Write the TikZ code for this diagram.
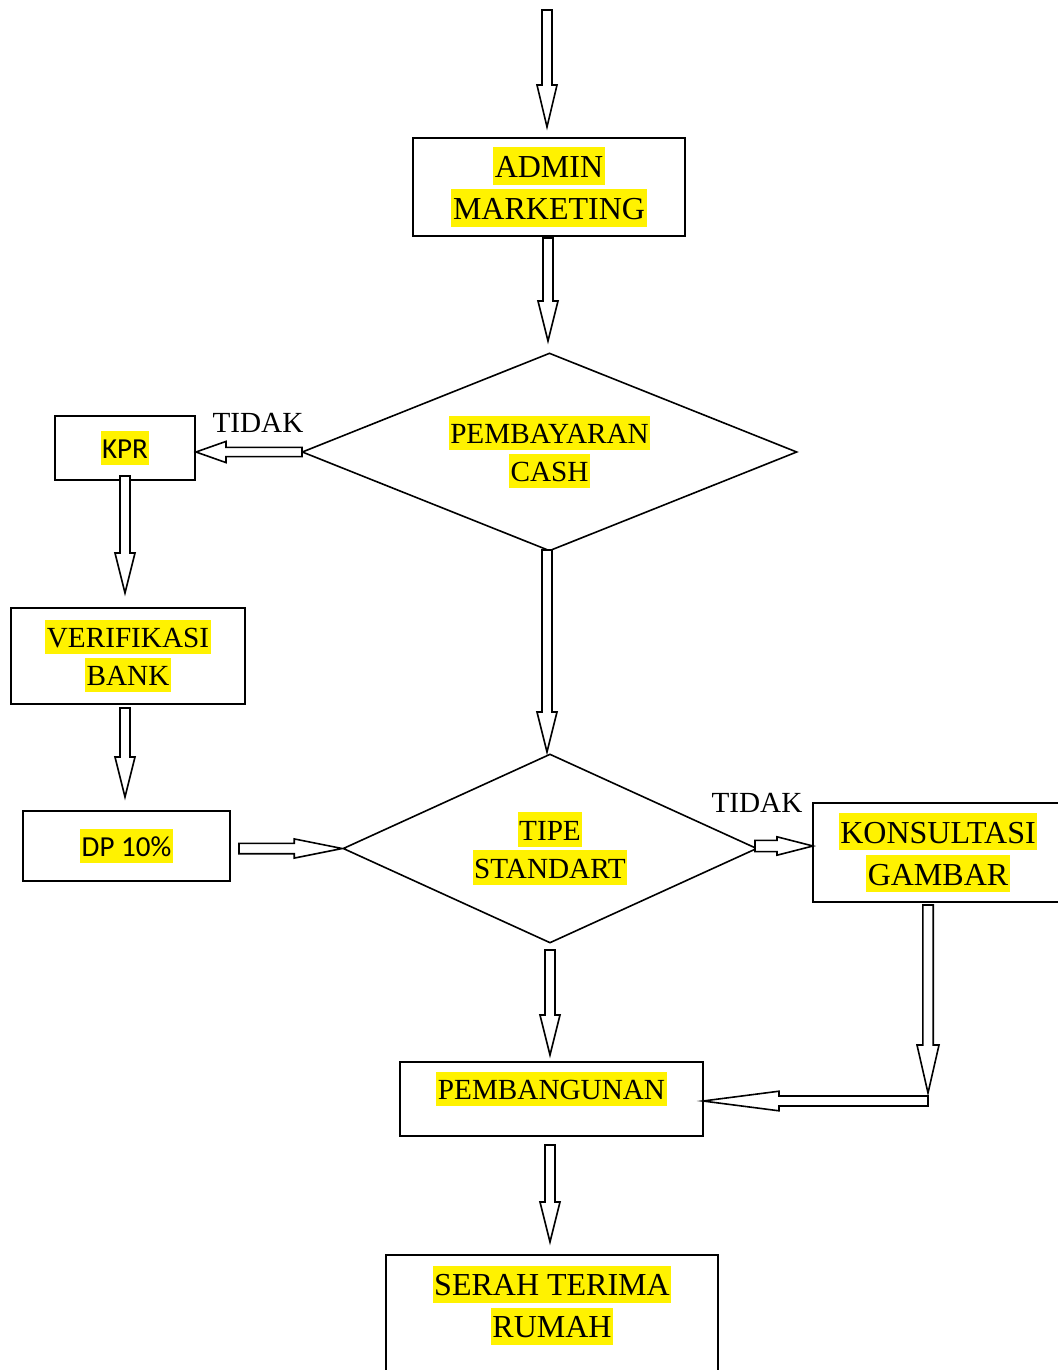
\documentclass[tikz,border=0pt]{standalone}
\usepackage{fontspec}
\setmainfont{Liberation Serif}
\newfontfamily\calibri{Carlito}
\usetikzlibrary{calc, shapes.geometric}
\setlength{\fboxsep}{0.8pt}
\newcommand{\hl}[1]{\colorbox{yellow}{\rule[-.17em]{0pt}{1.06em}#1}}
\tikzset{%
	box/.style={
		draw,
		line width=0.8pt,
		fill=white,
		inner sep=0pt,
		align=center
	},
	decision/.style={
		diamond,
		draw,
		line width=0.8pt,
		fill=white,
		inner sep=0pt,
		align=center
	},
	big text/.style={font=\fontsize{16}{21}\selectfont},
	small text/.style={font=\fontsize{14.6}{19}\selectfont},
	hollow/.style n args={3}{
		draw,
		line width=0.8pt,
		fill=white,
		to path={
			($(\tikztotarget)!#3!(\tikztostart)$) coordinate (hb)
			($(\tikztostart)!#1!90:(\tikztotarget)$) -- ($(hb)!#1!90:(\tikztotarget)$)
			-- ($(hb)!#2!90:(\tikztotarget)$) -- (\tikztotarget)
			-- ($(hb)!#2!-90:(\tikztotarget)$) -- ($(hb)!#1!-90:(\tikztotarget)$)
			-- ($(\tikztostart)!#1!-90:(\tikztotarget)$) -- cycle
		}
	},
}

\begin{document}
\begin{tikzpicture}[x=0.5pt, y=-0.5pt]
	\useasboundingbox (0,0) rectangle (1057,1370);
	
	% Boxes and decisions
	\node[box, big text, minimum width=136pt, minimum height=49pt] (admin) at (549,187) {\hl{ADMIN}\\\hl{MARKETING}};
	\node[decision, small text, minimum width=247.5pt, minimum height=99pt, shape aspect=2.5] (cash) at (549.5,452) {\hl{PEMBAYARAN}\\\hl{CASH}};
	\node[box, font=\calibri\fontsize{14.5}{19}\selectfont, minimum width=70pt, minimum height=32pt] (kpr) at (125,448) {\hl{KPR}};
	\node[box, small text, minimum width=117pt, minimum height=48pt] (verif) at (128,656) {\hl{VERIFIKASI}\\\hl{BANK}};
	\node[box, font=\calibri\fontsize{14.5}{19}\selectfont, minimum width=103.5pt, minimum height=35pt] (dp) at (126.5,846) {\hl{DP 10\%}};
	\node[decision, small text, minimum width=207pt, minimum height=94.5pt, shape aspect=2.2] (tipe) at (550,848.5) {\hl{TIPE}\\\hl{STANDART}};
	\node[box, big text, minimum width=125pt, minimum height=49.5pt] (konsul) at (938,852.5) {\hl{KONSULTASI}\\\hl{GAMBAR}};
	\node[box, small text, text depth=13.2pt, minimum width=151.5pt, minimum height=37pt] (pemb) at (551.5,1099) {\hl{PEMBANGUNAN}};
	\node[box, big text, anchor=north, inner sep=5.5pt, text depth=100pt, minimum width=166pt] (serah) at (552,1254) {\hl{SERAH TERIMA}\\\hl{RUMAH}};
	
	% Labels
	\node[small text] (tidak1) at (258,423) {TIDAK};
	\node[small text] (tidak2) at (757,803) {TIDAK};
	
	% Arrow ends
	\coordinate (c1a) at (547,10);    \coordinate (c1b) at (547,127);
	\coordinate (c2a) at (548,238);   \coordinate (c2b) at (548,341);
	\coordinate (c3a) at (302,452);   \coordinate (c3b) at (196,452);
	\coordinate (c4a) at (125,476);   \coordinate (c4b) at (125,593);
	\coordinate (c5a) at (125,708);   \coordinate (c5b) at (125,797);
	\coordinate (c6a) at (239,848.5);
	\coordinate (c7a) at (547,550);   \coordinate (c7b) at (547,752);
	\coordinate (c8a) at (755,846);   \coordinate (c8b) at (813,846);
	\coordinate (c9a) at (550,950);   \coordinate (c9b) at (550,1055);
	\coordinate (c10a) at (928,905);  \coordinate (c10b) at (928,1093);
	\coordinate (c11a) at (928,1101); \coordinate (c11b) at (703,1101);
	\coordinate (c12a) at (550,1145); \coordinate (c12b) at (550,1242);
	
	% Arrows
	\draw[hollow={2.5pt}{5pt}{21pt}] (c1a) to (c1b);
	\draw[hollow={2.5pt}{5pt}{20pt}] (c2a) to (c2b);
	\draw[hollow={2.3pt}{5.3pt}{15pt}] (c3a) to (c3b);
	\draw[hollow={2.5pt}{5pt}{20pt}] (c4a) to (c4b);
	\draw[hollow={2.5pt}{5pt}{20pt}] (c5a) to (c5b);
	\draw[hollow={2.6pt}{4.8pt}{24pt}] (c6a) to (tipe.west);
	\draw[hollow={2.5pt}{5pt}{20pt}] (c7a) to (c7b);
	\draw[hollow={2.8pt}{4.6pt}{18pt}] (c8a) to (c8b);
	\draw[hollow={2.5pt}{5pt}{20pt}] (c9a) to (c9b);
	\draw[hollow={2.6pt}{5.5pt}{24pt}] (c10a) to (c10b);
	\draw[hollow={2.5pt}{4.9pt}{38pt}] (c11a) to (c11b);
	\draw[hollow={2.5pt}{5pt}{20pt}] (c12a) to (c12b);
	
\end{tikzpicture}
\end{document}
